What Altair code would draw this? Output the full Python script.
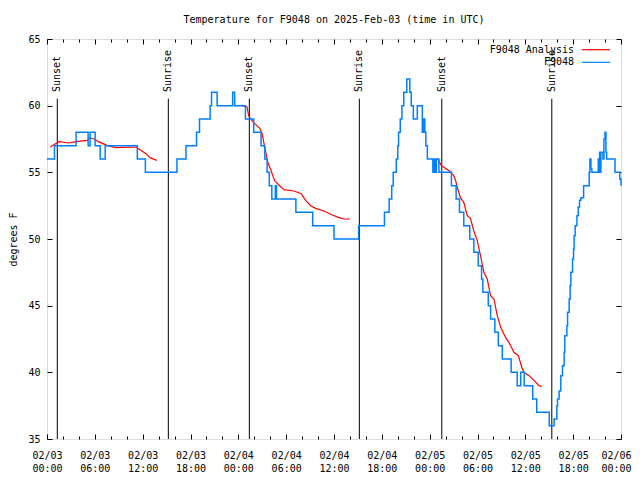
import altair as alt
import pandas as pd

FONT = "DejaVu Sans Mono"
TITLE = "Temperature for F9048 on 2025-Feb-03 (time in UTC)"

# Observed temperature (hours after 2025-02-03 00:00 UTC, deg F)
blue_h = [0.0, 0.94, 3.65, 5.16, 5.41, 6.04, 6.67, 7.30, 11.33, 12.34,
          16.30, 17.43, 18.76, 19.13, 20.46, 20.64, 21.34, 23.29, 23.54, 24.89,
          25.93, 26.85, 27.32, 27.61, 27.88, 28.20, 28.64, 28.79, 31.22, 33.33,
          36.00, 39.09, 42.33, 42.92, 43.24, 43.43, 43.81, 44.00, 44.10, 44.31,
          44.52, 44.75, 45.13, 45.51, 45.69, 45.95, 46.45, 47.08, 47.27, 47.39,
          47.52, 47.71, 48.40, 48.53, 48.65, 48.84, 49.16, 50.73, 51.32, 51.74,
          52.28, 53.03, 53.54, 54.09, 54.51, 54.67, 55.35, 55.64, 56.18, 56.61,
          57.11, 58.22, 58.98, 59.42, 59.86, 60.93, 61.43, 63.00, 63.61, 63.95,
          64.04, 64.24, 64.45, 64.66, 64.87, 64.95, 65.21, 65.30, 65.50, 65.62,
          65.71, 65.92, 66.05, 66.12, 66.25, 66.47, 66.63, 66.80, 66.97, 67.31,
          68.01, 68.10, 68.23, 68.35, 69.15, 69.23, 69.32, 69.40, 69.48, 69.74,
          69.86, 69.99, 70.11, 70.20, 71.25, 71.84, 72.0]
blue_t = [56, 57, 58, 57, 58, 57, 56, 57, 56, 55,
          56, 57, 58, 59, 60, 61, 60, 61, 60, 59,
          58, 57, 56, 55, 54, 53, 54, 53, 52, 51,
          50, 51, 52, 53, 54, 55, 56, 57, 58, 59,
          60, 61, 62, 61, 60, 59, 60, 58, 59, 58,
          57, 56, 55, 56, 55, 56, 55, 54, 53, 52,
          51, 50, 49, 48, 47, 46, 45, 44, 43, 42,
          41, 40, 39, 40, 39, 38, 37, 36, 36.5, 37.5,
          38, 38.6, 39.75, 40.5, 41.5, 42.75, 43.5, 44.5, 45.5, 46.5,
          47.5, 48.5, 49.25, 50.25, 51, 51.75, 52.4, 52.9, 53.1, 54,
          55, 56, 55.25, 55, 56, 55, 56.5, 55, 56.5, 56,
          57.5, 58, 56.5, 56, 55, 54.5, 54]

# Analysis (three night-time segments)
red1_h = [0.42, 0.97, 1.51, 2.77, 3.61, 5.07, 5.29, 5.92, 6.46, 7.59, 8.65, 11.17, 11.67, 12.42, 12.93, 13.76]
red1_t = [56.9, 57.1, 57.3, 57.2, 57.3, 57.4, 57.6, 57.5, 57.3, 57.0, 56.85, 56.9, 56.7, 56.4, 56.1, 55.9]
red2_h = [24.55, 25.09, 25.30, 25.59, 26.15, 26.69, 26.98, 27.19, 27.53, 27.69, 28.03, 28.54,
          29.08, 29.71, 30.97, 31.89, 32.44, 33.07, 33.70, 34.74, 35.79, 36.63, 37.26, 38.02]
red2_t = [60.0, 59.9, 59.25, 58.95, 58.6, 58.3, 57.9, 57.25, 56.25, 55.75, 55.25, 54.4,
          54.05, 53.7, 53.6, 53.4, 52.9, 52.5, 52.3, 52.1, 51.8, 51.6, 51.5, 51.5]
red3_h = [49.0, 49.47, 49.97, 50.60, 51.02, 51.23, 51.45, 51.86, 52.28, 52.71, 53.12, 53.54, 53.96, 54.38, 54.80,
          55.22, 55.64, 56.06, 56.48, 56.90, 57.53, 57.94, 58.57, 59.13, 59.54, 59.83, 60.46, 61.09, 61.72, 62.06]
red3_t = [56.0, 55.5, 55.3, 55.05, 54.75, 54.45, 53.9, 53.1, 52.75, 51.75, 51.55, 50.6, 49.9, 48.75, 47.5,
          47.0, 45.75, 45.5, 44.25, 43.4, 42.6, 42.25, 41.5, 41.25, 40.4, 40.0, 39.75, 39.4, 39.0, 38.95]

sun_h = [1.29, 15.22, 25.38, 39.18, 49.52, 63.32]
sun_label = ["Sunset", "Sunrise", "Sunset", "Sunrise", "Sunset", "Sunrise"]

series_names = ["F9048 Analysis", "F9048"]
series_colors = ["#ff0000", "#0080ff"]

x_major = list(range(0, 73, 6))
x_ticks = list(range(0, 73, 2))
y_ticks = [35, 40, 45, 50, 55, 60, 65]

W, H = 574, 400

blue_df = pd.DataFrame({"h": blue_h, "t": blue_t})
red_df = pd.concat([
    pd.DataFrame({"h": red1_h, "t": red1_t, "seg": 1}),
    pd.DataFrame({"h": red2_h, "t": red2_t, "seg": 2}),
    pd.DataFrame({"h": red3_h, "t": red3_t, "seg": 3}),
])
sun_df = pd.DataFrame({"h": sun_h, "label": sun_label})

xs = alt.Scale(domain=[0, 72], nice=False, zero=False)
ys = alt.Scale(domain=[35, 65], nice=False, zero=False)

common = dict(domain=False, grid=False, title=None)
tick_cond = {"condition": {"test": "datum.value % 6 === 0", "value": 5}, "value": 3}
last_align = {"condition": {"test": "datum.value >= 72", "value": "right"}, "value": "center"}
last_off = {"condition": {"test": "datum.value >= 72", "value": 10}, "value": 0}

ax_lab = alt.Axis(orient="bottom", values=x_major, tickSize=0, labelPadding=11,
                  labelExpr="['02/0' + (3 + floor(datum.value / 24)), (datum.value % 24 < 10 ? '0' : '') + (datum.value % 24) + ':00']",
                  labelLineHeight=13, labelBaseline="top", labelFlush=False, labelOverlap=False,
                  labelAlign=last_align, labelOffset=last_off,
                  labelFont=FONT, labelFontSize=10, labelColor="black", **common)
ax_bot_in = alt.Axis(orient="top", offset=-H, values=x_ticks, tickSize=tick_cond, labels=False,
                     tickColor="black", **common)
ax_top_in = alt.Axis(orient="bottom", offset=-H, values=x_ticks, tickSize=tick_cond, labels=False,
                     tickColor="black", **common)

ay_lab = alt.Axis(orient="left", values=y_ticks, tickSize=0, labelPadding=7, labelFont=FONT,
                  labelFontSize=10, labelColor="black", domain=False, grid=False,
                  title="degrees F", titleX=-34, titleY=200, titleAngle=270, titleAlign="center",
                  titleBaseline="middle", titleFont=FONT, titleFontSize=10, titleFontWeight="normal",
                  titleColor="black")
ay_left_in = alt.Axis(orient="right", offset=-W, values=y_ticks, tickSize=5, labels=False,
                      tickColor="black", **common)
ay_right_in = alt.Axis(orient="left", offset=-W, values=y_ticks, tickSize=5, labels=False,
                       tickColor="black", **common)

rules = alt.Chart(sun_df).mark_rule(color="black", strokeWidth=1).encode(
    x=alt.X("h:Q", scale=xs, axis=ax_lab),
    y=alt.value(59.7), y2=alt.value(H),
)
sun_text = alt.Chart(sun_df).mark_text(angle=270, align="left", baseline="middle", font=FONT,
                                       fontSize=10, color="black").encode(
    x=alt.X("h:Q", scale=xs, axis=ax_bot_in),
    y=alt.value(53),
    text="label:N",
)
red = alt.Chart(red_df).mark_line(color=series_colors[0], strokeWidth=1.2).encode(
    x=alt.X("h:Q", scale=xs, axis=ax_top_in),
    y=alt.Y("t:Q", scale=ys, axis=ay_left_in),
    detail="seg:N",
)
blue = alt.Chart(blue_df).mark_line(color=series_colors[1], strokeWidth=1.5,
                                    interpolate="step-after").encode(
    x=alt.X("h:Q", scale=xs, axis=None),
    y=alt.Y("t:Q", scale=ys, axis=ay_right_in),
)
blue_lab = alt.Chart(blue_df).mark_line(opacity=0).encode(
    x=alt.X("h:Q", scale=xs, axis=None),
    y=alt.Y("t:Q", scale=ys, axis=ay_lab),
)

legend_layers = []
for i, (name, col) in enumerate(zip(series_names, series_colors)):
    yy = 10.7 + 12.6 * i
    legend_layers.append(
        alt.Chart(pd.DataFrame({"name": [name]})).mark_text(
            align="right", baseline="middle", font=FONT, fontSize=10, color="black"
        ).encode(x=alt.value(527), y=alt.value(yy), text="name:N")
    )
    legend_layers.append(
        alt.Chart(pd.DataFrame({"name": [name]})).mark_rule(color=col, strokeWidth=1.2).encode(
            x=alt.value(534.7), x2=alt.value(563), y=alt.value(yy)
        )
    )

chart = alt.layer(rules, sun_text, red, blue, blue_lab, *legend_layers).resolve_scale(
    x="shared", y="shared"
).resolve_axis(x="independent", y="independent").properties(
    width=W, height=H,
    autosize=alt.AutoSizeParams(type="none"),
    padding={"left": 39, "top": 31, "right": 11, "bottom": 33},
    title=alt.TitleParams(TITLE, font=FONT, fontSize=10, fontWeight="normal", anchor="middle",
                          offset=9, color="black"),
).configure_view(stroke="black", strokeWidth=1).configure(background="white")

chart.save("out.html", embed_options={"renderer": "svg", "actions": False})
